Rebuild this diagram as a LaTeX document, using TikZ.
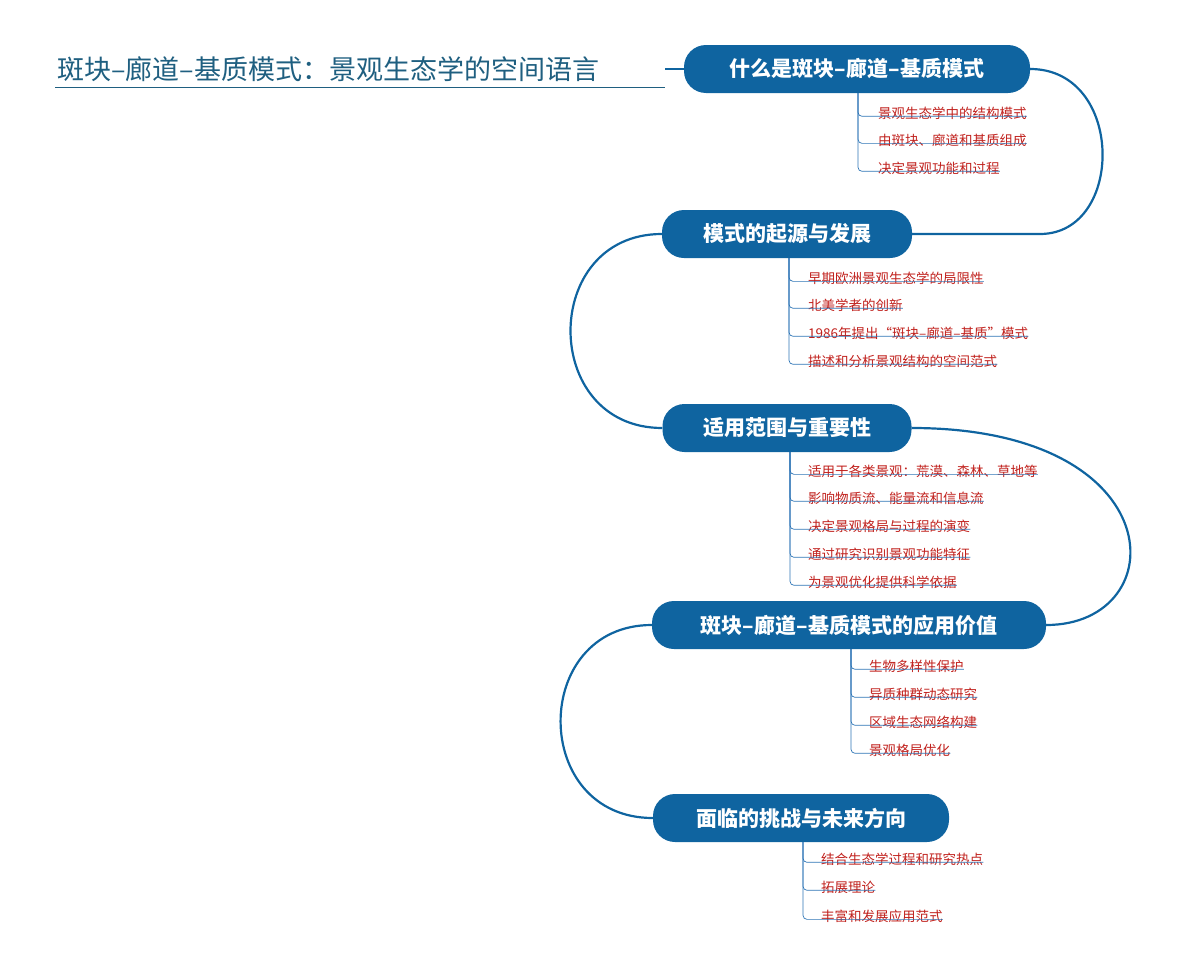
\documentclass[tikz,border=0pt]{standalone}
\usepackage{fontspec}
\setmainfont{Noto Sans CJK SC}
\newfontfamily\cjkb{Noto Sans CJK SC}[BoldFont={* Bold}]
\begin{document}
\begin{tikzpicture}[x=1pt,y=-1pt,
  mainbox/.style={fill=mblue,text=white,rounded corners=22pt,minimum height=48pt,inner xsep=14pt,font=\fontsize{21}{24}\selectfont\bfseries},
  leaf/.style={anchor=base west,text=lred,inner sep=0pt,font=\fontsize{13.5}{15}\selectfont},
  link/.style={draw=mblue,line width=2.2pt},
  lline/.style={draw=lblue,line width=0.7pt,rounded corners=4pt}]
\definecolor{mblue}{HTML}{0F64A0}
\definecolor{lred}{HTML}{C0201C}
\definecolor{lblue}{HTML}{2E75B6}
\definecolor{ttl}{HTML}{1F5F80}
\useasboundingbox (0,0) rectangle (1200,972);
\node[anchor=base west,text=ttl,inner sep=0pt,font=\fontsize{27}{30}\selectfont] (title) at (57,79) {斑块–廊道–基质模式：景观生态学的空间语言};
\draw[draw=ttl,line width=1pt] (55,87) -- (665,87);
\node[mainbox,minimum width=346pt] (n1) at (857,69) {什么是斑块–廊道–基质模式};
\node[mainbox,minimum width=250pt] (n2) at (787,234) {模式的起源与发展};
\node[mainbox,minimum width=249pt] (n3) at (787,428) {适用范围与重要性};
\node[mainbox,minimum width=394pt] (n4) at (849,625) {斑块–廊道–基质模式的应用价值};
\node[mainbox,minimum width=296pt] (n5) at (801,818) {面临的挑战与未来方向};
\draw[link] (665,69) -- (n1.west);
\draw[link] (n1.east) .. controls (1125,69) and (1125,234) .. (1040,234) -- (n2.east);
\draw[link] (n2.west) .. controls (540,234) and (540,428) .. (n3.west);
\draw[link] (n3.east) .. controls (1175,428) and (1175,625) .. (n4.east);
\draw[link] (n4.west) .. controls (530,625) and (530,818) .. (n5.west);
% group 1
\coordinate (g1) at (858,93);
\foreach \i/\t/\y in {1/景观生态学中的结构模式/118,2/由斑块、廊道和基质组成/145,3/决定景观功能和过程/173}{
  \node[leaf] (a\i) at (878,\y) {\t};
  \draw[lline] (g1) |- ([yshift=3pt]a\i.south east);
}
\coordinate (g2) at (789,258);
\foreach \i/\t/\y in {1/早期欧洲景观生态学的局限性/283,2/北美学者的创新/310,3/1986年提出“斑块–廊道–基质”模式/338,4/描述和分析景观结构的空间范式/366}{
  \node[leaf] (b\i) at (808,\y) {\t};
  \draw[lline] (g2) |- ([yshift=3pt]b\i.south east);
}
\coordinate (g3) at (790,452);
\foreach \i/\t/\y in {1/适用于各类景观：荒漠、森林、草地等/476,2/影响物质流、能量流和信息流/503,3/决定景观格局与过程的演变/531,4/通过研究识别景观功能特征/559,5/为景观优化提供科学依据/587}{
  \node[leaf] (c\i) at (808,\y) {\t};
  \draw[lline] (g3) |- ([yshift=3pt]c\i.south east);
}
\coordinate (g4) at (851,649);
\foreach \i/\t/\y in {1/生物多样性保护/671,2/异质种群动态研究/699,3/区域生态网络构建/727,4/景观格局优化/755}{
  \node[leaf] (d\i) at (869,\y) {\t};
  \draw[lline] (g4) |- ([yshift=3pt]d\i.south east);
}
\coordinate (g5) at (803,842);
\foreach \i/\t/\y in {1/结合生态学过程和研究热点/864,2/拓展理论/892,3/丰富和发展应用范式/921}{
  \node[leaf] (e\i) at (821,\y) {\t};
  \draw[lline] (g5) |- ([yshift=3pt]e\i.south east);
}
\end{tikzpicture}
\end{document}
